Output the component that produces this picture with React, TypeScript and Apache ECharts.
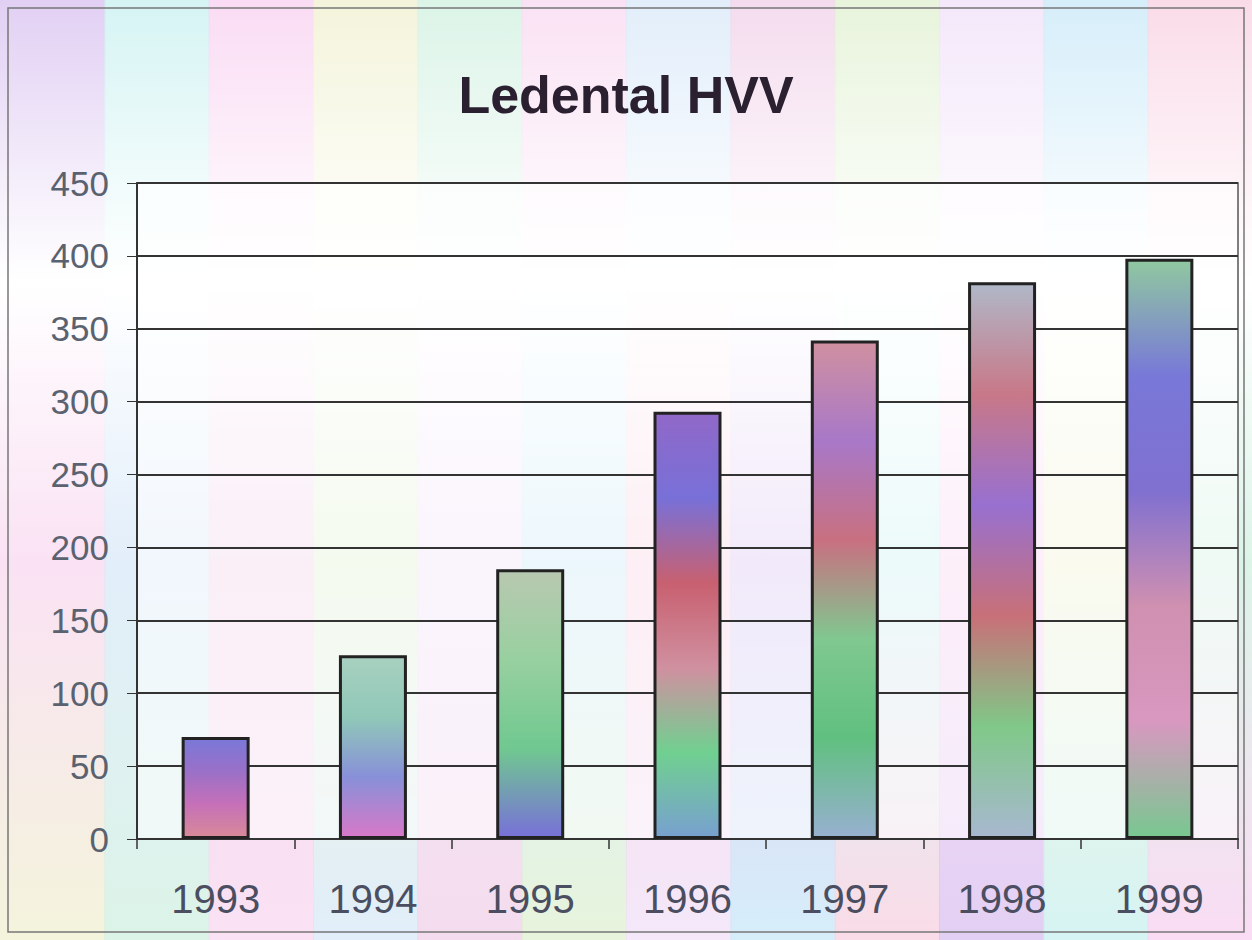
import React, { useEffect, useRef } from "react";
import * as echarts from "echarts";

const categories = ["1993", "1994", "1995", "1996", "1997", "1998", "1999"];
const values = [70, 126, 185, 293, 342, 382, 398];
const yTicks = [0, 50, 100, 150, 200, 250, 300, 350, 400, 450];
const titleText = "Ledental HVV";

const barGradients: string[][] = [
  ["#7a78d8", "#9a70c8", "#c670b8", "#d88a98"],
  ["#a8d0c0", "#90c8b8", "#8890d8", "#d878c8"],
  ["#b8c8b0", "#98d0a0", "#70c890", "#7870d8"],
  ["#9068c8", "#7870d8", "#c86070", "#d090a0", "#70d090", "#78a0d0"],
  ["#d090a0", "#a878c8", "#c87080", "#80c890", "#60c080", "#98b0d0"],
  ["#b0b8c8", "#c87888", "#9870d0", "#c87078", "#80c888", "#a8b8d0"],
  ["#90c8a0", "#7878d8", "#8070d0", "#d090b0", "#d898c0", "#78c890"],
];

const bgStripes = ["#d8c0f0", "#c8f0f0", "#f8d0f0", "#f0f0d0", "#d0f0e0", "#f8d8f0", "#d8e8f8", "#f0d0e8", "#e0f0d0", "#f0e0f8", "#c8e8f8", "#f8d0e0"];

export default function App() {
  const ref = useRef<HTMLDivElement>(null);
  useEffect(() => {
    if (!ref.current) return;
    const chart = echarts.init(ref.current, undefined, { renderer: "svg" });
    const stripeW = 1252 / bgStripes.length;
    const bg = bgStripes.map((c, i) => ({
      type: "rect",
      z: -10,
      shape: { x: i * stripeW, y: 0, width: stripeW + 1, height: 940 },
      style: {
        fill: new echarts.graphic.LinearGradient(0, 0, 0, 1, [
          { offset: 0, color: c },
          { offset: 0.3, color: "#ffffff" },
          { offset: 0.6, color: bgStripes[(i + 5) % bgStripes.length] },
          { offset: 1, color: bgStripes[(i + 3) % bgStripes.length] },
        ]),
        opacity: 0.75,
      },
      silent: true,
    }));
    chart.setOption({
      animation: false,
      backgroundColor: "#ffffff",
      graphic: [
        ...bg,
        {
          type: "rect",
          z: -9,
          shape: { x: 137, y: 183, width: 1101, height: 656 },
          style: { fill: "rgba(255,255,255,0.55)", stroke: "#555", lineWidth: 1.5 },
          silent: true,
        },
        {
          type: "rect",
          z: -9,
          shape: { x: 8, y: 8, width: 1236, height: 924 },
          style: { fill: "transparent", stroke: "#777", lineWidth: 1.5 },
          silent: true,
        },
      ],
      title: {
        text: titleText,
        left: "center",
        top: 64,
        textStyle: { fontFamily: "Liberation Sans", fontSize: 52, fontWeight: "bold", color: "#2a2030" },
      },
      grid: { left: 137, right: 14, top: 183, bottom: 101 },
      xAxis: {
        type: "category",
        data: categories,
        axisLine: { lineStyle: { color: "#333", width: 2 } },
        axisTick: { show: true, length: 10, lineStyle: { color: "#333", width: 1.5 } },
        axisLabel: { fontFamily: "Liberation Sans", fontSize: 40, color: "#4a4e60", margin: 40 },
      },
      yAxis: {
        type: "value",
        min: 0,
        max: yTicks[yTicks.length - 1],
        interval: 50,
        axisLine: { show: true, lineStyle: { color: "#333", width: 2 } },
        axisTick: { show: true, length: 10, lineStyle: { color: "#333" } },
        axisLabel: { fontFamily: "Liberation Sans", fontSize: 35, color: "#5a6270", margin: 28 },
        splitLine: { lineStyle: { color: "#333", width: 2 } },
      },
      series: [
        {
          type: "bar",
          barWidth: 68,
          data: values.map((v, i) => ({
            value: v,
            itemStyle: {
              color: new echarts.graphic.LinearGradient(
                0,
                0,
                0,
                1,
                barGradients[i].map((c, k) => ({ offset: k / (barGradients[i].length - 1), color: c }))
              ),
              borderColor: "#222",
              borderWidth: 3,
            },
          })),
        },
      ],
    });
    return () => chart.dispose();
  }, []);
  return <div ref={ref} style={{ width: 1252, height: 940, position: "absolute", left: 0, top: 0 }} />;
}
